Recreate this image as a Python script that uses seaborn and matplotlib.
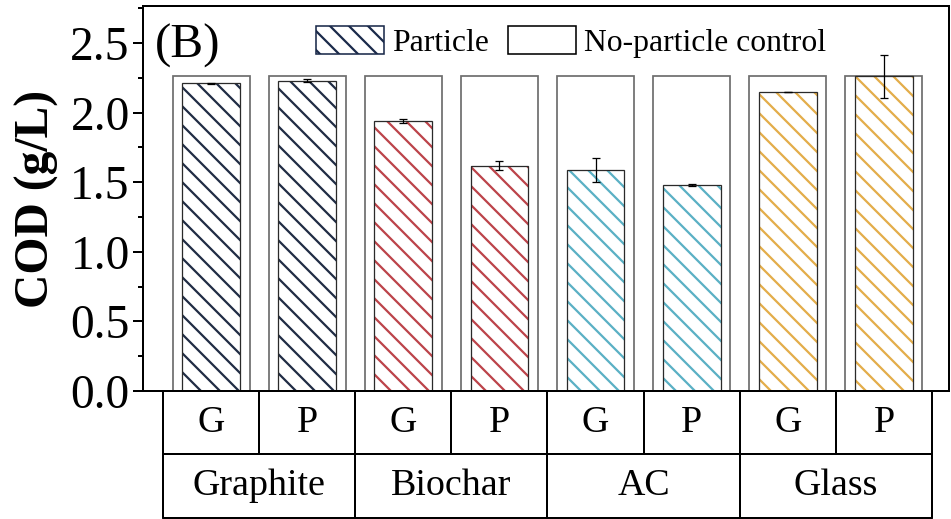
import numpy as np
import pandas as pd
import matplotlib
matplotlib.use("Agg")
import matplotlib.pyplot as plt
from matplotlib.patches import Patch
from matplotlib.ticker import MultipleLocator, FormatStrFormatter
import seaborn as sns

sns.set_theme(style="ticks")
plt.rcParams["font.family"] = ["Liberation Serif", "DejaVu Serif"]
plt.rcParams["hatch.linewidth"] = 1.4
plt.rcParams["text.color"] = "black"
plt.rcParams["axes.labelcolor"] = "black"
plt.rcParams["ytick.color"] = "black"
plt.rcParams["ytick.labelcolor"] = "black"

# data
materials = ["Graphite", "Biochar", "AC", "Glass"]
sources = ["G", "P"]
particle_cod = [2.21, 2.23, 1.94, 1.62, 1.59, 1.48, 2.15, 2.26]
particle_err = [0.004, 0.012, 0.012, 0.03, 0.085, 0.005, 0.0, 0.155]
control_cod = [2.26, 2.26, 2.26, 2.26, 2.26, 2.26, 2.26, 2.26]
material_colors = ["#1a2a4a", "#d02f38", "#48bbd6", "#fdb530"]

df = pd.DataFrame({
    "sample": [f"{m} {s}" for m in materials for s in sources],
    "material": np.repeat(materials, len(sources)),
    "source": sources * len(materials),
    "particle": particle_cod,
    "control": control_cod,
})

DPI = 114
fig = plt.figure(figsize=(951 / DPI, 519 / DPI), dpi=DPI)
ax = fig.add_axes([143 / 951, 128 / 519, 806 / 951, 385 / 519])

# no-particle control (open boxes)
sns.barplot(data=df, x="sample", y="control", color="white", width=0.8,
            edgecolor="#6e6e6e", linewidth=1.1, errorbar=None, ax=ax)

# particle bars: hatch layer
n_before = len(ax.patches)
sns.barplot(data=df, x="sample", y="particle", hue="material",
            palette=material_colors, dodge=False, width=0.6,
            errorbar=None, legend=False, ax=ax)
for p in ax.patches[n_before:]:
    c = p.get_facecolor()
    p.set_facecolor("white")
    p.set_edgecolor(c)
    p.set_hatch("\\\\")
    p.set_linewidth(0)

# particle bars: outline layer
n_before = len(ax.patches)
sns.barplot(data=df, x="sample", y="particle", color="white", width=0.6,
            errorbar=None, ax=ax)
for p in ax.patches[n_before:]:
    p.set_facecolor("none")
    p.set_edgecolor("#2a2a2a")
    p.set_linewidth(0.8)

ax.errorbar(np.arange(len(df)), df["particle"], yerr=particle_err, fmt="none",
            ecolor="black", elinewidth=0.8, capsize=2.8, capthick=0.8, zorder=5)

ax.set_xlim(-0.708, 7.677)
ax.set_ylim(0, 2.766)
ax.yaxis.set_major_locator(MultipleLocator(0.5))
ax.yaxis.set_minor_locator(MultipleLocator(0.25))
ax.yaxis.set_major_formatter(FormatStrFormatter("%.1f"))
ax.set_xticks([])
ax.set_xlabel("")
ax.set_ylabel("COD (g/L)", fontsize=30, fontweight="bold", labelpad=7,
              color="black")
ax.tick_params(axis="y", which="major", direction="out", length=6.3,
               width=1.26, labelsize=30, pad=2, color="black",
               labelcolor="black")
ax.tick_params(axis="y", which="minor", direction="out", length=3.2,
               width=1.26, color="black")
for s in ax.spines.values():
    s.set_visible(True)
    s.set_color("black")
    s.set_linewidth(1.26)

# category table below the axes
tr = ax.get_xaxis_transform()
r1, r2 = -63 / 385, -127 / 385
n = len(df)
for i in range(n + 1):
    ax.plot([i - 0.5, i - 0.5], [0, r1], color="black", lw=1.26,
            transform=tr, clip_on=False)
for i in range(0, n + 1, 2):
    ax.plot([i - 0.5, i - 0.5], [r1, r2], color="black", lw=1.26,
            transform=tr, clip_on=False)
for yy in (r1, r2):
    ax.plot([-0.5, n - 0.5], [yy, yy], color="black", lw=1.26,
            transform=tr, clip_on=False)
for i, s in enumerate(df["source"]):
    ax.text(i, r1 / 2, s, transform=tr, ha="center", va="center", fontsize=24,
            color="black")
for k, m in enumerate(materials):
    ax.text(2 * k + 0.5, (r1 + r2) / 2, m, transform=tr, ha="center",
            va="center", fontsize=24, color="black")

ax.text(0.015, 0.896, "(B)", transform=ax.transAxes, ha="left", va="center",
        fontsize=31, color="black")

handles = [
    Patch(facecolor="white", edgecolor=material_colors[0], hatch="\\\\", lw=1.0),
    Patch(facecolor="white", edgecolor="black", lw=1.0),
]
ax.legend(handles, ["Particle", "No-particle control"], loc="upper left",
          bbox_to_anchor=(0.2146, 0.948), ncol=2, frameon=False, fontsize=20,
          borderpad=0, borderaxespad=0, handlelength=2.15, handleheight=1.0,
          handletextpad=0.26, columnspacing=0.6, labelcolor="black")

fig.savefig("out.png", dpi=DPI)
